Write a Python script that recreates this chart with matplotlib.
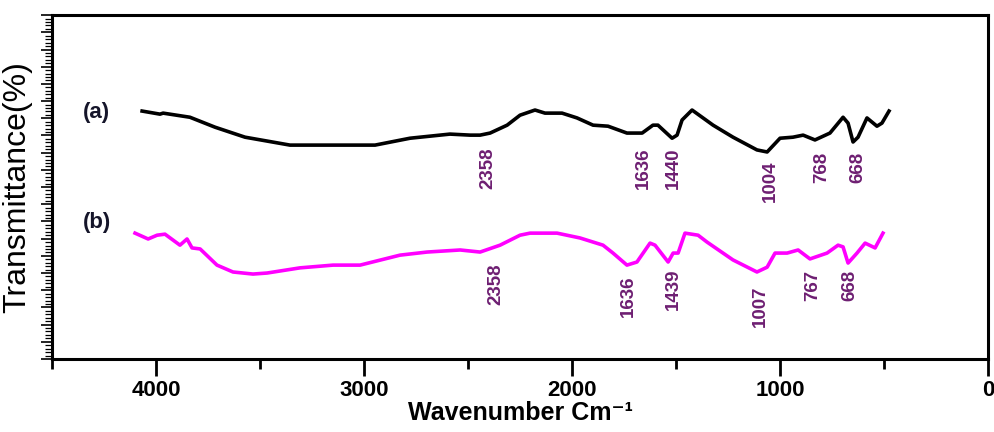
import matplotlib
matplotlib.use('Agg')
import matplotlib.pyplot as plt
from matplotlib.ticker import MultipleLocator, NullFormatter

plt.rcParams['font.family'] = ['Liberation Sans', 'DejaVu Sans']

# spectrum (a) - black
wn_a = [4067, 3981, 3966, 3837, 3716, 3572, 3356, 2947, 2779, 2587, 2490, 2442,
        2394, 2312, 2250, 2178, 2130, 2048, 1976, 1899, 1827, 1736, 1663, 1611,
        1587, 1519, 1495, 1471, 1423, 1322, 1226, 1111, 1062, 1000, 938, 889,
        832, 760, 697, 673, 649, 625, 582, 534, 510, 476]
tr_a = [72.1, 71.2, 71.5, 70.3, 67.4, 64.5, 62.2, 62.2, 64.2, 65.4, 65.1, 65.1,
        65.7, 68.0, 70.9, 72.4, 71.5, 71.5, 70.1, 68.0, 67.7, 65.7, 65.7, 68.0,
        68.0, 64.2, 65.1, 69.5, 72.4, 68.0, 64.5, 60.8, 60.2, 64.2, 64.5, 65.1,
        63.7, 65.7, 70.3, 68.6, 63.1, 64.5, 70.1, 67.7, 68.6, 72.1]

# spectrum (b) - magenta
wn_b = [4101, 4038, 3995, 3957, 3885, 3851, 3827, 3788, 3707, 3630, 3534, 3466,
        3308, 3149, 3019, 2827, 2697, 2538, 2442, 2346, 2250, 2202, 2072, 1962,
        1851, 1803, 1736, 1688, 1625, 1601, 1538, 1514, 1490, 1457, 1394, 1351,
        1226, 1111, 1062, 1024, 966, 913, 856, 774, 721, 697, 673, 630, 591,
        543, 505]
tr_b = [36.6, 34.9, 36.0, 36.3, 33.1, 34.9, 32.3, 32.0, 27.3, 25.3, 24.7, 25.0,
        26.5, 27.3, 27.3, 30.2, 31.1, 31.7, 31.1, 33.1, 36.0, 36.6, 36.6, 35.2,
        33.1, 30.8, 27.3, 28.2, 33.7, 33.1, 28.2, 30.8, 30.8, 36.6, 36.0, 34.0,
        28.8, 25.3, 26.7, 30.8, 30.8, 31.7, 29.1, 30.8, 33.1, 32.6, 27.9, 30.8,
        33.7, 32.3, 36.6]

# peak labels (text, x position, top of text)
peaks_a = ['2358', '1636', '1440', '1004', '768', '668']
peaks_a_x = [2404, 1659, 1514, 1048, 798, 625]
peaks_a_y = [61.6, 61.6, 61.6, 57.8, 60.2, 60.2]

peaks_b = ['2358', '1636', '1439', '1007', '767', '668']
peaks_b_x = [2365, 1731, 1514, 1096, 841, 663]
peaks_b_y = [27.9, 24.4, 26.2, 21.5, 25.9, 25.9]

fig = plt.figure(figsize=(9.95, 4.32), dpi=100)
ax = fig.add_axes([0.0523, 0.169, 0.9407, 0.796])

ax.plot(wn_a, tr_a, color='black', lw=2.6, solid_joinstyle='round')
ax.plot(wn_b, tr_b, color='#ff00ff', lw=2.6, solid_joinstyle='round')

purple = '#6e1f72'
for t, x, y in zip(peaks_a, peaks_a_x, peaks_a_y):
    ax.text(x, y, t, rotation=90, ha='center', va='top', fontsize=13.5,
            fontweight='bold', color=purple)
for t, x, y in zip(peaks_b, peaks_b_x, peaks_b_y):
    ax.text(x, y, t, rotation=90, ha='center', va='top', fontsize=13.5,
            fontweight='bold', color=purple)

ax.text(0.047, 0.717, '(a)', transform=ax.transAxes, ha='center', va='center',
        fontsize=16, fontweight='bold', color='#15152a')
ax.text(0.048, 0.398, '(b)', transform=ax.transAxes, ha='center', va='center',
        fontsize=16, fontweight='bold', color='#15152a')

ax.set_xlim(4500, 0)
ax.set_ylim(0, 100)

ax.xaxis.set_major_locator(MultipleLocator(1000))
ax.xaxis.set_minor_locator(MultipleLocator(500))
ax.yaxis.set_major_locator(MultipleLocator(5))
ax.yaxis.set_minor_locator(MultipleLocator(1))
ax.yaxis.set_major_formatter(NullFormatter())

ax.tick_params(axis='x', which='major', direction='out', length=12, width=2,
               labelsize=16, pad=3)
ax.tick_params(axis='x', which='minor', direction='out', length=7, width=2)
ax.tick_params(axis='y', which='major', direction='out', length=8, width=1.2)
ax.tick_params(axis='y', which='minor', direction='out', length=5, width=0.9)
for lab in ax.get_xticklabels():
    lab.set_fontweight('bold')

for s in ax.spines.values():
    s.set_linewidth(2.2)

ax.set_xlabel('Wavenumber Cm\u207b\u00b9', fontsize=18, fontweight='bold', labelpad=0)
ax.set_ylabel('Transmittance(%)', fontsize=23, labelpad=3)

fig.savefig('out.png', dpi=100)
